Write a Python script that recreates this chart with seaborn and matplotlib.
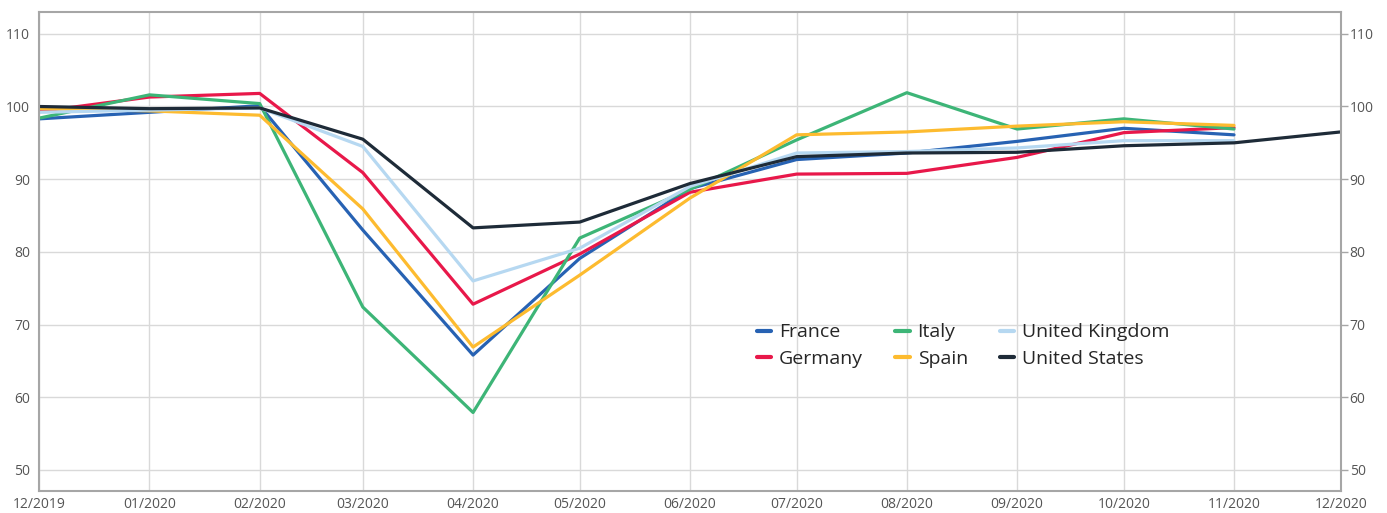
import matplotlib.pyplot as plt
import matplotlib.dates as mdates
import seaborn as sns
import pandas as pd

months = pd.date_range("2019-12-01", "2020-12-01", freq="MS")
countries = ["France", "Germany", "Italy", "Spain", "United Kingdom", "United States"]

france = [98.3, 99.2, 100.1, 83.0, 65.8, 79.1, 88.7, 92.7, 93.6, 95.2, 97.0, 96.1]
germany = [99.3, 101.3, 101.8, 90.9, 72.8, 79.7, 88.2, 90.7, 90.8, 93.0, 96.4, 97.1]
italy = [98.4, 101.6, 100.4, 72.4, 57.9, 81.9, 88.6, 95.4, 101.9, 96.9, 98.3, 96.9]
spain = [99.7, 99.4, 98.8, 85.9, 66.9, 76.8, 87.4, 96.1, 96.5, 97.3, 97.9, 97.4]
uk = [99.2, 99.5, 99.8, 94.5, 76.0, 80.5, 89.0, 93.6, 93.8, 94.3, 95.3, 95.3]
us = [100.0, 99.7, 99.8, 95.5, 83.3, 84.1, 89.4, 93.1, 93.6, 93.7, 94.6, 95.0, 96.5]

palette = {
    "France": "#2762b3",
    "Germany": "#e8184a",
    "Italy": "#3db577",
    "Spain": "#fdbb2f",
    "United Kingdom": "#b6d8f1",
    "United States": "#1e2b38",
}

series = [france, germany, italy, spain, uk, us]
rows = []
for name, vals in zip(countries, series):
    for d, v in zip(months, vals):
        rows.append({"date": d, "value": v, "country": name})
df = pd.DataFrame(rows)

sns.set_style("white")
plt.rcParams["font.family"] = ["Open Sans", "DejaVu Sans"]

fig = plt.figure(figsize=(13.87, 5.13), dpi=100)
ax = fig.add_axes([0.0283, 0.0429, 0.9383, 0.9337])

sns.lineplot(data=df, x="date", y="value", hue="country", hue_order=countries,
             palette=palette, linewidth=2.3, ax=ax, legend=False)

ax.set_xlim(months[0], months[-1])
ax.set_ylim(47.1, 113)
ax.set_yticks([50, 60, 70, 80, 90, 100, 110])
ax.xaxis.set_major_locator(mdates.MonthLocator())
ax.xaxis.set_major_formatter(mdates.DateFormatter("%m/%Y"))
ax.set_xlabel("")
ax.set_ylabel("")

ax.grid(True, color="#d9d9d9", linewidth=1)
ax.set_axisbelow(True)
for s in ax.spines.values():
    s.set_color("#a6a6a6")
    s.set_linewidth(1.5)

ax.tick_params(axis="both", colors="#a6a6a6", labelcolor="#555555", labelsize=10, width=1)
ax.tick_params(axis="y", right=True, labelright=True, length=5, pad=1.5)
ax.tick_params(axis="x", length=2.5, pad=1.5)

handles = [plt.Line2D([], [], color=palette[c], linewidth=3) for c in countries]
ax.legend(handles, countries, ncol=3, loc="center", bbox_to_anchor=(0.71, 0.303),
          frameon=False, fontsize=14, handlelength=0.75, handletextpad=0.4,
          columnspacing=1.65, labelspacing=0.45)

fig.savefig("out.png", dpi=100)
plt.close(fig)
